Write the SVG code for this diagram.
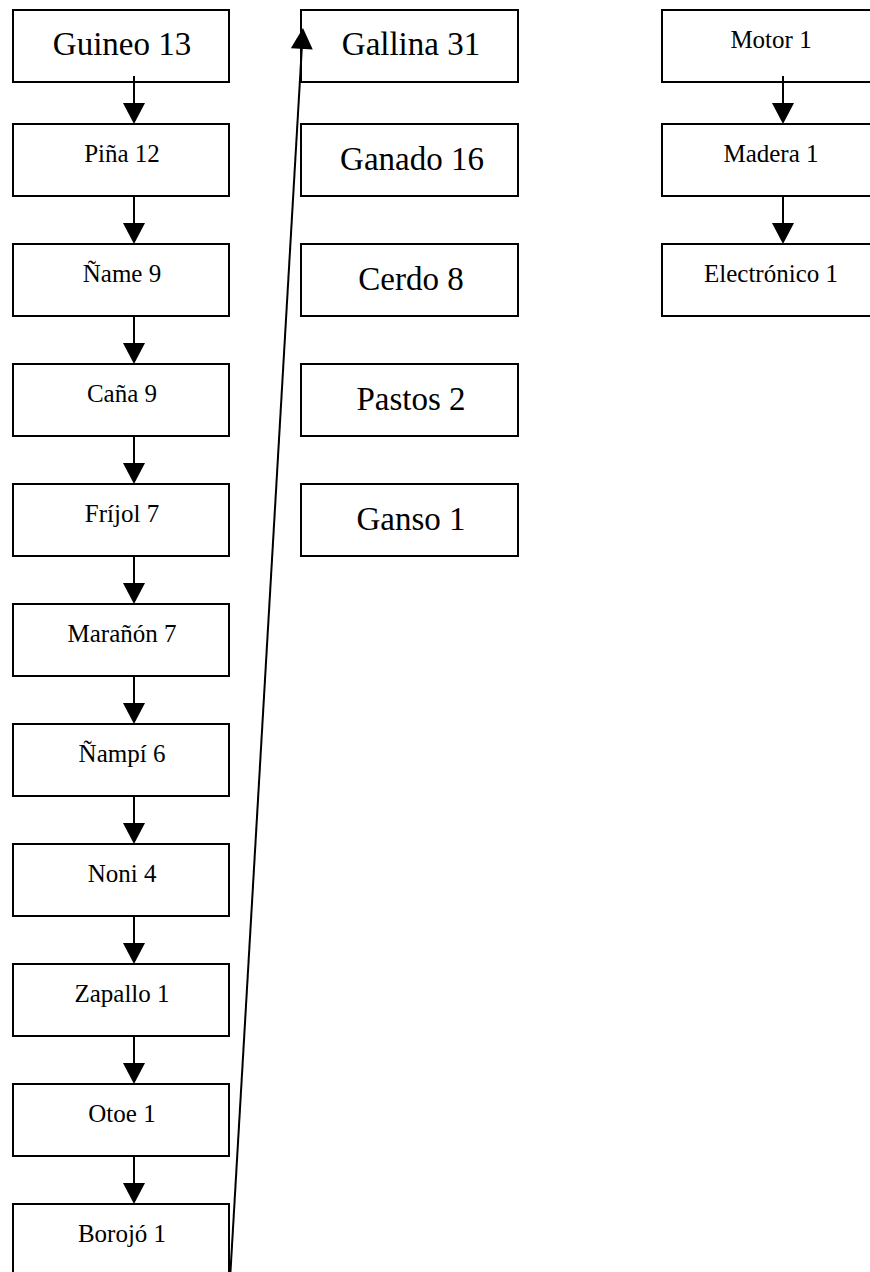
<svg xmlns="http://www.w3.org/2000/svg" width="870" height="1272" viewBox="0 0 870 1272">
<defs>
<style>
.box{fill:#fff;stroke:#000;stroke-width:2}
text{font-family:"Liberation Serif","Times New Roman",serif;text-anchor:middle;fill:#000}
.big{font-size:33px}
.sm{font-size:25px}
.con{stroke:#000;stroke-width:2;fill:none;marker-end:url(#ah)}
</style>
<marker id="ah" markerUnits="userSpaceOnUse" markerWidth="22" markerHeight="22" viewBox="0 0 21 22" refX="11" refY="11" orient="auto">
<path d="M0,0 L21,11 L0,22 Z" fill="#000"/>
</marker>
</defs>
<rect width="870" height="1272" fill="#fff"/>
<g id="n-guineo"><rect class="box" x="13" y="10" width="216" height="72"/><text class="big" x="122" y="55">Guineo 13</text></g>
<g id="n-pina"><rect class="box" x="13" y="124" width="216" height="72"/><text class="sm" x="122" y="162">Piña 12</text></g>
<g id="n-name"><rect class="box" x="13" y="244" width="216" height="72"/><text class="sm" x="122" y="282">Ñame 9</text></g>
<g id="n-cana"><rect class="box" x="13" y="364" width="216" height="72"/><text class="sm" x="122" y="402">Caña 9</text></g>
<g id="n-frijol"><rect class="box" x="13" y="484" width="216" height="72"/><text class="sm" x="122" y="522">Fríjol 7</text></g>
<g id="n-maranon"><rect class="box" x="13" y="604" width="216" height="72"/><text class="sm" x="122" y="642">Marañón 7</text></g>
<g id="n-nampi"><rect class="box" x="13" y="724" width="216" height="72"/><text class="sm" x="122" y="762">Ñampí 6</text></g>
<g id="n-noni"><rect class="box" x="13" y="844" width="216" height="72"/><text class="sm" x="122" y="882">Noni 4</text></g>
<g id="n-zapallo"><rect class="box" x="13" y="964" width="216" height="72"/><text class="sm" x="122" y="1002">Zapallo 1</text></g>
<g id="n-otoe"><rect class="box" x="13" y="1084" width="216" height="72"/><text class="sm" x="122" y="1122">Otoe 1</text></g>
<g id="n-borojo"><rect class="box" x="13" y="1204" width="216" height="72"/><text class="sm" x="122" y="1242">Borojó 1</text></g>
<g id="n-gallina"><rect class="box" x="301" y="10" width="217" height="72"/><text class="big" x="411" y="55">Gallina 31</text></g>
<g id="n-ganado"><rect class="box" x="301" y="124" width="217" height="72"/><text class="big" x="412" y="170">Ganado 16</text></g>
<g id="n-cerdo"><rect class="box" x="301" y="244" width="217" height="72"/><text class="big" x="411" y="290">Cerdo 8</text></g>
<g id="n-pastos"><rect class="box" x="301" y="364" width="217" height="72"/><text class="big" x="411" y="410">Pastos 2</text></g>
<g id="n-ganso"><rect class="box" x="301" y="484" width="217" height="72"/><text class="big" x="411" y="530">Ganso 1</text></g>
<g id="n-motor"><rect class="box" x="662" y="10" width="217" height="72"/><text class="sm" x="771" y="48">Motor 1</text></g>
<g id="n-madera"><rect class="box" x="662" y="124" width="217" height="72"/><text class="sm" x="771" y="162">Madera 1</text></g>
<g id="n-electronico"><rect class="box" x="662" y="244" width="217" height="72"/><text class="sm" x="771" y="282">Electrónico 1</text></g>
<g id="connectors">
<line class="con" x1="134" y1="76" x2="134" y2="114"/>
<line class="con" x1="134" y1="196" x2="134" y2="234"/>
<line class="con" x1="134" y1="316" x2="134" y2="354"/>
<line class="con" x1="134" y1="436" x2="134" y2="474"/>
<line class="con" x1="134" y1="556" x2="134" y2="594"/>
<line class="con" x1="134" y1="676" x2="134" y2="714"/>
<line class="con" x1="134" y1="796" x2="134" y2="834"/>
<line class="con" x1="134" y1="916" x2="134" y2="954"/>
<line class="con" x1="134" y1="1036" x2="134" y2="1074"/>
<line class="con" x1="134" y1="1156" x2="134" y2="1194"/>
<line class="con" x1="783" y1="76" x2="783" y2="114"/>
<line class="con" x1="783" y1="196" x2="783" y2="234"/>
<line class="con" x1="230" y1="1280" x2="302.4" y2="38"/>
</g>
</svg>
